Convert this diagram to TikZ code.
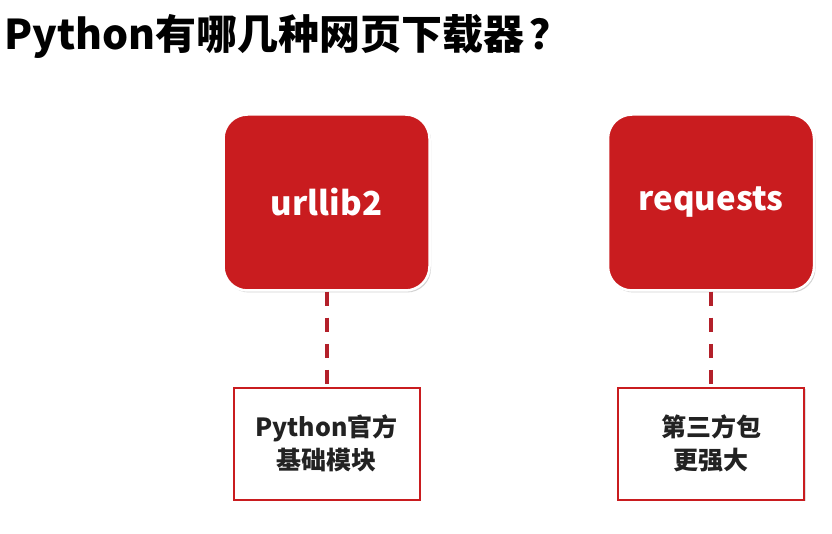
\documentclass[tikz,border=0pt]{standalone}
\usepackage{fontspec}
\setmainfont{Noto Sans CJK SC}
\usetikzlibrary{shadows}
\definecolor{boxred}{HTML}{C91C1F}
\definecolor{linered}{HTML}{B3202A}
\definecolor{txtgray}{HTML}{222222}
\tikzset{
  redbox/.style={fill=boxred, draw=white, line width=2.5pt, rounded corners=24pt,
    minimum width=206pt, minimum height=176pt, text=white,
    font=\fontsize{33}{38}\selectfont\bfseries,
    drop shadow={shadow xshift=1.5pt, shadow yshift=-2pt, fill=black!35, opacity=0.5}},
  notebox/.style={fill=white, draw=boxred, line width=2pt,
    minimum width=186pt, minimum height=112pt, text=txtgray, align=center,
    font=\fontsize{25}{33}\selectfont\bfseries,
    drop shadow={shadow xshift=1.5pt, shadow yshift=-1.5pt, fill=black!30, opacity=0.4}},
  dashlink/.style={draw=linered, line width=4pt, dash pattern=on 14pt off 12pt},
  titletext/.style={anchor=west, text=black, font=\fontsize{41}{45}\selectfont\bfseries, inner sep=0pt}
}
\begin{document}
\begin{tikzpicture}[x=1pt,y=-1pt]
\useasboundingbox[fill=white] (0,0) rectangle (832,534);
\node[titletext] (title) at (4,36) {Python有哪几种网页下载器\hspace{5pt}？};
\node[redbox] (u) at (326.5,202.5) {urllib2};
\node[redbox] (r) at (711,202.5) {requests};
\node[notebox] (bu) at (326.5,443.5) {Python官方\\基础模块};
\node[notebox] (br) at (711,443.5) {第三方包\\更强大};
\draw[dashlink] (u.south) -- (bu.north);
\draw[dashlink] (r.south) -- (br.north);
\end{tikzpicture}
\end{document}
